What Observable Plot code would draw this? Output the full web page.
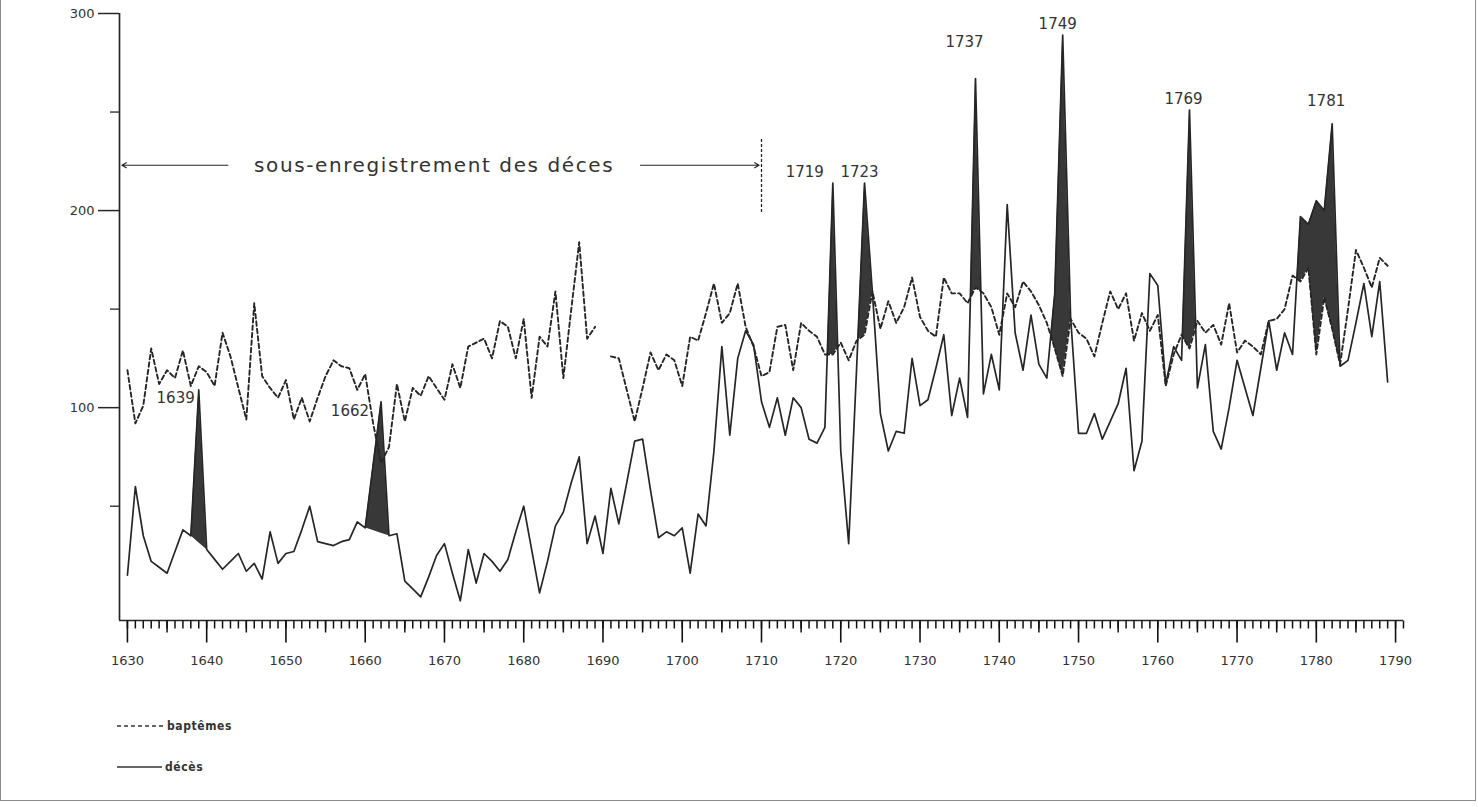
<!DOCTYPE html>
<html>
<head>
<meta charset="utf-8">
<script src="https://cdn.jsdelivr.net/npm/d3@7"></script>
<script src="https://cdn.jsdelivr.net/npm/@observablehq/plot@0.6"></script>
<style>
html, body { margin: 0; padding: 0; background: #fff; }
#wrap { position: relative; width: 1478px; height: 807px; overflow: hidden; font-family: "DejaVu Sans", sans-serif; }
#frame { position: absolute; left: 0px; top: -3px; width: 1476px; height: 804px; border: 1.5px solid #8c8c8c; box-sizing: border-box; pointer-events: none; }
.leg { position: absolute; left: 117px; display: flex; align-items: center; font-size: 12px; color: #333; letter-spacing: 0.6px; font-weight: bold; font-stretch: condensed; }
.leg svg { margin-right: 3px; }
</style>
</head>
<body>
<div id="wrap">
  <div id="chart"></div>
  <div class="leg" style="top:719px"><svg width="47" height="6"><line x1="0" y1="3" x2="47" y2="3" stroke="#333" stroke-width="1.6" stroke-dasharray="4,3"/></svg><span>baptêmes</span></div>
  <div class="leg" style="top:760px"><svg width="45" height="6"><line x1="0" y1="3" x2="45" y2="3" stroke="#333" stroke-width="1.6"/></svg><span>décès</span></div>
  <div id="frame"></div>
</div>
<script>
// ---------- data ----------
const firstYear = 1630;
const years = d3.range(1630, 1790);
const bapt = [
  119, 92, 101, 130, 112, 119, 115, 129, 111, 121,
  118, 111, 138, 126, 110, 94, 153, 116, 110, 105,
  114, 94, 105, 93, 105, 116, 124, 121, 120, 109,
  117, 92, 72, 80, 112, 93, 110, 106, 116, 110,
  104, 122, 110, 131, 133, 135, 125, 144, 141, 125,
  145, 105, 136, 131, 159, 115, 150, 184, 135, 141,
  null, 126, 125, 109, 93, 110, 128, 119, 127, 124,
  111, 136, 134, 148, 163, 143, 148, 163, 141, 131,
  116, 118, 141, 142, 119, 143, 139, 136, 127, 127,
  133, 124, 134, 137, 159, 140, 154, 143, 151, 166,
  146, 139, 136, 166, 158, 158, 153, 161, 158, 151,
  137, 158, 151, 164, 159, 152, 143, 130, 116, 145,
  138, 135, 126, 143, 159, 150, 158, 134, 148, 139,
  147, 111, 127, 137, 130, 144, 138, 142, 132, 153,
  128, 134, 131, 127, 144, 145, 150, 167, 164, 171,
  127, 156, 140, 122, 150, 180, 171, 161, 176, 172
];
const deces = [
  15, 60, 35, 22, 19, 16, 27, 38, 35, 109,
  28, 23, 18, 22, 26, 17, 21, 13, 37, 21,
  26, 27, 38, 50, 32, 31, 30, 32, 33, 42,
  39, 71, 103, 35, 36, 12, 8, 4, 14, 25,
  31, 16, 2, 28, 11, 26, 22, 17, 23, 37,
  50, 28, 6, 22, 40, 47, 62, 75, 31, 45,
  26, 59, 41, 62, 83, 84, 58, 34, 37, 35,
  39, 16, 46, 40, 78, 131, 86, 125, 139, 132,
  103, 90, 105, 86, 105, 100, 84, 82, 90, 214,
  78, 31, 120, 214, 158, 97, 78, 88, 87, 125,
  101, 104, 120, 137, 96, 115, 95, 267, 107, 127,
  109, 203, 138, 119, 147, 122, 115, 158, 289, 146,
  87, 87, 97, 84, 93, 102, 120, 68, 83, 168,
  162, 112, 131, 124, 251, 110, 132, 88, 79, 100,
  124, 110, 96, 120, 144, 119, 138, 127, 197, 193,
  205, 200, 244, 121, 124, 143, 163, 136, 164, 113
];
// mortality crises (peak year as drawn, printed label, shaded span, baseline kind)
const crisisYear  = [1639, 1662, 1719, 1723, 1737, 1748, 1764, 1782];
const crisisLabel = ["1639", "1662", "1719", "1723", "1737", "1749", "1769", "1781"];
const crisisFrom  = [1638, 1660, 1718, 1722, 1736, 1746, 1763, 1777];
const crisisTo    = [1640, 1663, 1720, 1724, 1738, 1750, 1765, 1783];
const crisisBase  = ["chord", "chord", "bapt", "bapt", "bapt", "bapt", "bapt", "bapt"];
// under-registration note
const noteText = "sous-enregistrement des déces";
const noteFrom = 1629, noteTo = 1710, noteLevel = 223, noteBarLow = 199, noteBarHigh = 237;
// axes
const decadeTicks = d3.range(1630, 1791, 10);
const decadeLabels = decadeTicks.map(String);
const halfDecadeTicks = d3.range(1635, 1791, 10);
const yearTicks = d3.range(1630, 1792);
const yTicks = [100, 200, 300];
const yLabels = ["100", "200", "300"];
const yMinor = [50, 150, 250];

// ---------- layout / style ----------
const W = 1478, H = 690, ML = 119, MR = 75, MT = 13, MB = 70;
const X0 = 1629, X1 = 1791, Y0 = -8, Y1 = 300;
const kx = (W - ML - MR) / (X1 - X0), ky = (H - MT - MB) / (Y1 - Y0);
const ink = "#262626";
const labelPlacement = [
  {dx: -4, dy: 8, anchor: "end"},
  {dx: -12, dy: 9, anchor: "end"},
  {dx: -9, dy: -11, anchor: "end"},
  {dx: -5, dy: -11, anchor: "middle"},
  {dx: -11, dy: -36, anchor: "middle"},
  {dx: -5, dy: -11, anchor: "middle"},
  {dx: -6, dy: -11, anchor: "middle"},
  {dx: -6, dy: -23, anchor: "middle"}
];

const data = years.map((y, i) => ({year: y, bapt: bapt[i], deces: deces[i]}));
const d = y => deces[y - firstYear];

function crisisArea(i) {
  const a = crisisFrom[i], b = crisisTo[i];
  const base = crisisBase[i] === "chord"
    ? (y => d(a) + (d(b) - d(a)) * (y - a) / (b - a))
    : (y => bapt[y - firstYear]);
  const pts = [];
  for (let y = a; y <= b; y++) {
    const diff = d(y) - base(y);
    if (y > a) {
      const p = d(y - 1) - base(y - 1);
      if ((p < 0 && diff > 0) || (p > 0 && diff < 0)) {
        const t = p / (p - diff);
        const v = base(y - 1) + (base(y) - base(y - 1)) * t;
        pts.push({x: y - 1 + t, y1: v, y2: v, c: i});
      }
    }
    pts.push({x: y, y1: base(y), y2: Math.max(d(y), base(y)), c: i});
  }
  return pts;
}
const shade = crisisYear.flatMap((_, i) => crisisArea(i));

const peaks = crisisYear.map((yr, i) => ({x: yr, y: d(yr), label: crisisLabel[i]}));

const noteMid = (noteFrom + 1 + noteTo) / 2 - 1.3;
const halfText = 196 / kx;

const marks = [
  Plot.areaY(shade, {x: "x", y1: "y1", y2: "y2", z: "c", fill: "#383838", curve: "linear"}),
  Plot.line(data, {x: "year", y: "deces", stroke: ink, strokeWidth: 1.7}),
  Plot.line(data, {x: "year", y: "bapt", stroke: ink, strokeWidth: 1.9, strokeDasharray: "4.5,3"}),
  // axes
  Plot.ruleY([Y0], {x1: X0, x2: X1, stroke: ink, strokeWidth: 1.7}),
  Plot.ruleX([X0], {y1: Y0, y2: Y1, stroke: ink, strokeWidth: 1.7}),
  Plot.link(yearTicks, {x1: v => v, x2: v => v, y1: Y0, y2: Y0 - 8 / ky, stroke: "#111", strokeWidth: 1.5}),
  Plot.link(halfDecadeTicks, {x1: v => v, x2: v => v, y1: Y0, y2: Y0 - 12 / ky, stroke: "#111", strokeWidth: 1.5}),
  Plot.link(decadeTicks, {x1: v => v, x2: v => v, y1: Y0, y2: Y0 - 22 / ky, stroke: "#111", strokeWidth: 1.6}),
  Plot.text(decadeTicks, {x: v => v, y: Y0, dy: 40, text: (v, i) => decadeLabels[i], fill: "#333", fontSize: 13}),
  Plot.ruleY(yTicks, {y: v => v, x1: X0 - 21 / kx, x2: X0, stroke: ink, strokeWidth: 1.5}),
  Plot.ruleY(yMinor, {y: v => v, x1: X0 - 9 / kx, x2: X0, stroke: ink, strokeWidth: 1.3}),
  Plot.text(yTicks, {x: X0, y: v => v, dx: -25, textAnchor: "end", text: (v, i) => yLabels[i], fill: "#333", fontSize: 13}),
  // under-registration note
  Plot.text([noteText], {x: noteMid, y: noteLevel, text: t => t, fill: "#333", fontSize: 20}),
  Plot.arrow([0], {x1: noteMid - halfText - 1.3, x2: noteFrom + 0.3, y1: noteLevel, y2: noteLevel, stroke: ink, strokeWidth: 1.1, headLength: 7}),
  Plot.arrow([0], {x1: noteMid + halfText + 1.3, x2: noteTo - 0.3, y1: noteLevel, y2: noteLevel, stroke: ink, strokeWidth: 1.1, headLength: 7}),
  Plot.ruleX([noteTo], {y1: noteBarLow, y2: noteBarHigh, stroke: ink, strokeWidth: 1.3, strokeDasharray: "3,2"}),
  // crisis labels
  ...peaks.map((p, i) => Plot.text([p], {
    x: "x", y: "y", text: "label",
    dx: labelPlacement[i].dx, dy: labelPlacement[i].dy, textAnchor: labelPlacement[i].anchor,
    fill: "#333", fontSize: 15
  }))
];

const svg = Plot.plot({
  width: W, height: H,
  marginLeft: ML, marginRight: MR, marginTop: MT, marginBottom: MB,
  x: {domain: [X0, X1], axis: null},
  y: {domain: [Y0, Y1], axis: null},
  style: {fontFamily: "DejaVu Sans, sans-serif", fontSize: "13px", color: "#333", background: "transparent", overflow: "visible"},
  marks
});
d3.select(svg).selectAll("text").filter(function () { return this.textContent === noteText; })
  .attr("letter-spacing", "1.6px");
document.getElementById("chart").appendChild(svg);
</script>
</body>
</html>
